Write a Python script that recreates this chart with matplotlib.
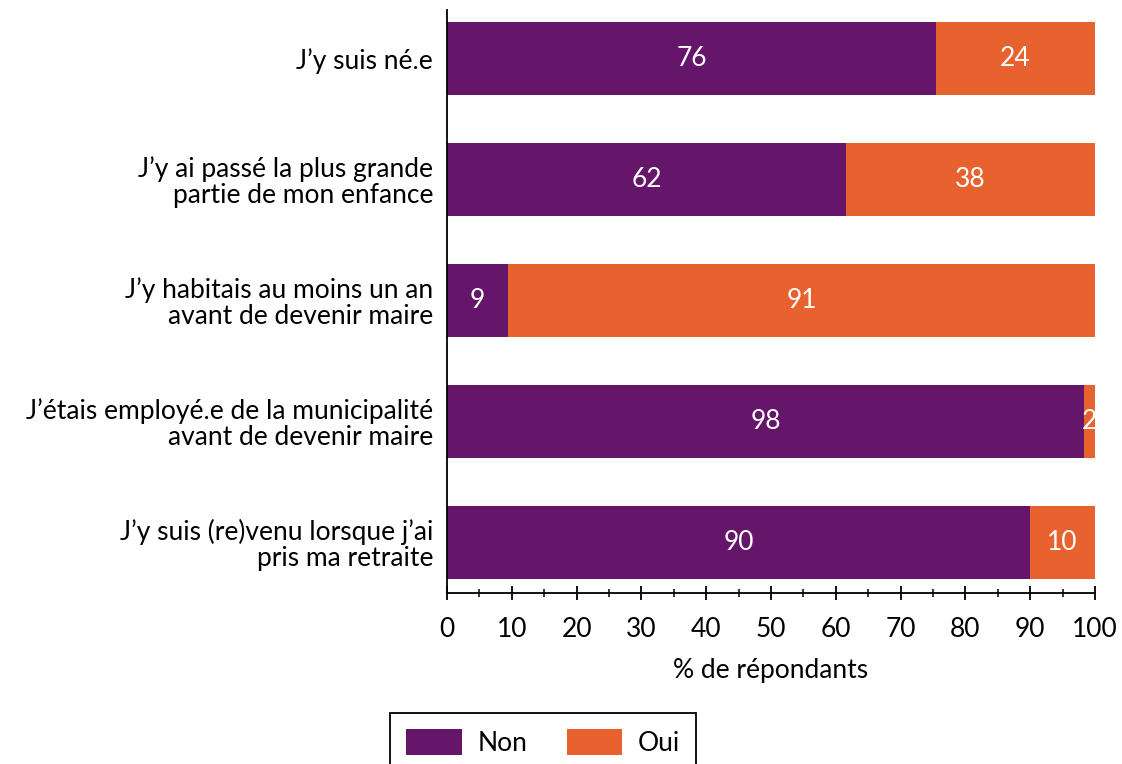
import matplotlib
matplotlib.use("Agg")
import matplotlib.pyplot as plt
from matplotlib.ticker import MultipleLocator

plt.rcParams["font.family"] = ["Lato", "DejaVu Sans"]

categories = [
    "J\u2019y suis né.e",
    "J\u2019y ai passé la plus grande\npartie de mon enfance",
    "J\u2019y habitais au moins un an\navant de devenir maire",
    "J\u2019étais employé.e de la municipalité\navant de devenir maire",
    "J\u2019y suis (re)venu lorsque j\u2019ai\npris ma retraite",
]
non_values = [75.5, 61.6, 9.4, 98.3, 90.0]
oui_values = [24.5, 38.4, 90.6, 1.7, 10.0]
non_labels = ["76", "62", "9", "98", "90"]
oui_labels = ["24", "38", "91", "2", "10"]

PURPLE = "#65166B"
ORANGE = "#E86230"
FS = 19

fig = plt.figure(figsize=(11.22, 7.64), dpi=100)
ax = fig.add_axes([0.3984, 0.2238, 0.5775, 0.7631])

ypos = list(range(len(categories)))
b_non = ax.barh(ypos, non_values, height=0.6, color=PURPLE, label="Non")
b_oui = ax.barh(ypos, oui_values, left=non_values, height=0.6, color=ORANGE, label="Oui")

ax.bar_label(b_non, labels=non_labels, label_type="center", color="white", fontsize=FS)
ax.bar_label(b_oui, labels=oui_labels, label_type="center", color="white", fontsize=FS)

ax.set_xlim(0, 100)
ax.set_ylim(4.42, -0.4)
ax.set_yticks(ypos)
ax.set_yticklabels(categories, fontsize=FS, linespacing=1.05)
ax.tick_params(axis="y", length=0, pad=10)

ax.xaxis.set_major_locator(MultipleLocator(10))
ax.xaxis.set_minor_locator(MultipleLocator(5))
ax.tick_params(axis="x", which="major", direction="inout", length=10, width=1.3, labelsize=FS, pad=12)
ax.tick_params(axis="x", which="minor", direction="inout", length=6, width=1.1)
ax.set_xlabel("% de répondants", fontsize=FS, labelpad=12)

for side in ["top", "right"]:
    ax.spines[side].set_visible(False)
for side in ["left", "bottom"]:
    ax.spines[side].set_linewidth(1.3)

leg = fig.legend(
    handles=[b_non, b_oui],
    labels=["Non", "Oui"],
    loc="upper left",
    bbox_to_anchor=(0.348, 0.067),
    ncol=2,
    fontsize=FS,
    frameon=True,
    fancybox=False,
    framealpha=1,
    edgecolor="black",
    handlelength=2.1,
    handleheight=1.15,
    handletextpad=0.6,
    columnspacing=1.5,
    borderpad=0.6,
    borderaxespad=0,
)
leg.get_frame().set_linewidth(1.3)

fig.savefig("out.png", dpi=100)
